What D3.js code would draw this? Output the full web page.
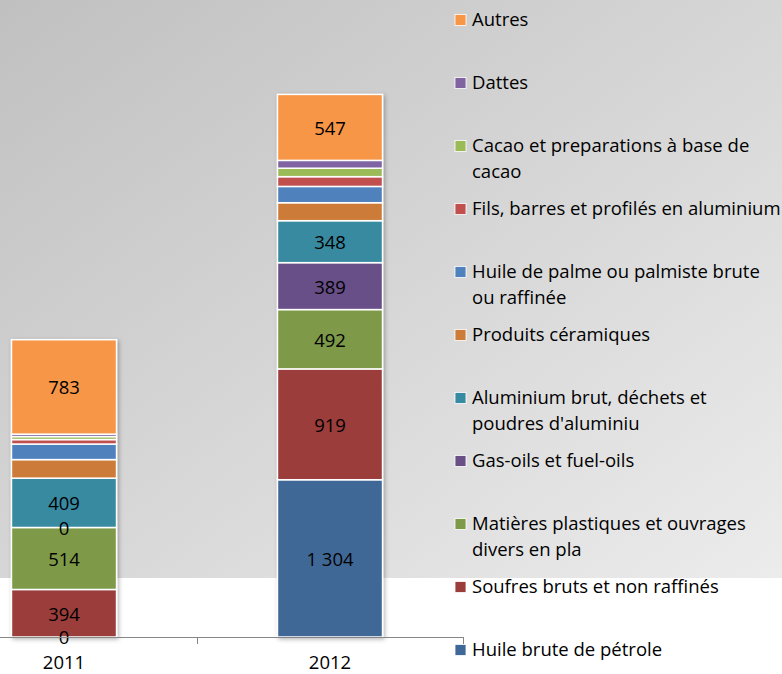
<!DOCTYPE html>
<html>
<head>
<meta charset="utf-8">
<script src="https://cdn.jsdelivr.net/npm/d3@7"></script>
<style>
  body { margin: 0; background: #fff; }
  svg text { font-family: "Open Sans", sans-serif; font-size: 18.5px; fill: #000; }
</style>
</head>
<body>
<div id="chart"></div>
<script>
// data
const years = ["2011", "2012"];
const products = [
  "Huile brute de pétrole",
  "Soufres bruts et non raffinés",
  "Matières plastiques et ouvrages divers en pla",
  "Gas-oils et fuel-oils",
  "Aluminium brut, déchets et poudres d'aluminiu",
  "Produits céramiques",
  "Huile de palme ou palmiste brute ou raffinée",
  "Fils, barres et profilés en aluminium",
  "Cacao et preparations à base de cacao",
  "Dattes",
  "Autres"
];
const values2011 = [0, 394, 514, 0, 409, 154, 129, 37, 25, 20, 783];
const values2012 = [1304, 919, 492, 389, 348, 149, 135, 81, 70, 65, 547];
const showLabel = [true, true, true, true, true, false, false, false, false, false, true];
const colors = ["#3f6797", "#9b3e3b", "#7e9a49", "#685087", "#378aa1", "#cc7b38",
                "#4f81bd", "#c0504d", "#9bbb59", "#8064a2", "#f79646"];
const legendLines = [
  ["Huile brute de pétrole"],
  ["Soufres bruts et non raffinés"],
  ["Matières plastiques et ouvrages", "divers en pla"],
  ["Gas-oils et fuel-oils"],
  ["Aluminium brut, déchets et", "poudres d'aluminiu"],
  ["Produits céramiques"],
  ["Huile de palme ou palmiste brute", "ou raffinée"],
  ["Fils, barres et profilés en aluminium"],
  ["Cacao et preparations à base de", "cacao"],
  ["Dattes"],
  ["Autres"]
];

const width = 782, height = 674;
const baseY = 637;

const svg = d3.select("#chart").append("svg")
    .attr("width", width)
    .attr("height", height);

const defs = svg.append("defs");
const grad = defs.append("linearGradient")
    .attr("id", "bg")
    .attr("x1", 0).attr("y1", 0).attr("x2", 1).attr("y2", 1);
grad.append("stop").attr("offset", "0%").attr("stop-color", "#c0c0c0");
grad.append("stop").attr("offset", "100%").attr("stop-color", "#ececec");

const shadow = defs.append("filter").attr("id", "shadow")
    .attr("x", "-20%").attr("y", "-5%").attr("width", "140%").attr("height", "110%");
shadow.append("feDropShadow")
    .attr("dx", 1.5).attr("dy", 1.5).attr("stdDeviation", 2)
    .attr("flood-color", "#000").attr("flood-opacity", 0.3);

// plot background
svg.append("rect")
    .attr("x", 0).attr("y", 0)
    .attr("width", width).attr("height", 578)
    .attr("fill", "url(#bg)");

// scales
const x = d3.scaleBand()
    .domain(years)
    .range([-69, 463])
    .paddingInner(0.605)
    .paddingOuter(0.3025);

const y = d3.scaleLinear()
    .domain([0, 5000])
    .range([baseY, 34]);

const rows = years.map((yr, i) => {
  const vals = i === 0 ? values2011 : values2012;
  const row = { year: yr };
  products.forEach((p, j) => row[p] = vals[j]);
  return row;
});

const stacked = d3.stack().keys(products)(rows);

const fmt = d3.formatLocale({ decimal: ",", thousands: "\u00a0", grouping: [3], currency: ["", ""] }).format(",d");

// bars
const barG = svg.append("g").attr("filter", "url(#shadow)");
stacked.forEach((layer, j) => {
  barG.append("g")
    .selectAll("rect")
    .data(layer.filter(d => d[1] - d[0] > 0))
    .join("rect")
      .attr("x", d => x(d.data.year))
      .attr("y", d => y(d[1]))
      .attr("width", x.bandwidth())
      .attr("height", d => y(d[0]) - y(d[1]))
      .attr("fill", colors[j])
      .attr("stroke", "#fff")
      .attr("stroke-width", 1.5);
});

// data labels
stacked.forEach((layer, j) => {
  if (!showLabel[j]) return;
  svg.append("g")
    .selectAll("text")
    .data(layer)
    .join("text")
      .attr("x", d => x(d.data.year) + x.bandwidth() / 2)
      .attr("y", d => (y(d[0]) + y(d[1])) / 2 + 1)
      .attr("dy", "0.35em")
      .attr("text-anchor", "middle")
      .text(d => fmt(d[1] - d[0]));
});

// category axis (ticks between categories, Excel style)
const axis = svg.append("g");
axis.append("line")
    .attr("x1", x.range()[0]).attr("x2", x.range()[1])
    .attr("y1", baseY + 0.5).attr("y2", baseY + 0.5)
    .attr("stroke", "#868686");
axis.selectAll("line.tick")
    .data(years)
    .join("line")
      .attr("class", "tick")
      .attr("x1", d => Math.round(x(d) + x.bandwidth() / 2 + x.step() / 2) + 0.5)
      .attr("x2", d => Math.round(x(d) + x.bandwidth() / 2 + x.step() / 2) + 0.5)
      .attr("y1", baseY)
      .attr("y2", baseY + 7)
      .attr("stroke", "#868686");
axis.selectAll("text")
    .data(years)
    .join("text")
      .attr("x", d => x(d) + x.bandwidth() / 2)
      .attr("y", 663)
      .attr("dy", "0.35em")
      .attr("text-anchor", "middle")
      .text(d => d);

// legend (top to bottom = reverse stack order)
const legend = svg.append("g");
const order = d3.range(products.length).reverse();
const item = legend.selectAll("g")
    .data(order)
    .join("g")
      .attr("transform", (d, i) => `translate(455, ${20 + i * 63})`);
item.append("rect")
    .attr("x", 0).attr("y", -5.5)
    .attr("width", 11).attr("height", 11)
    .attr("fill", d => colors[d])
    .attr("stroke", "#fff")
    .attr("stroke-width", 0.8);
item.each(function(d) {
  const t = d3.select(this).append("text")
      .attr("x", 17)
      .attr("y", 0);
  legendLines[d].forEach((line, k) => {
    t.append("tspan")
      .attr("x", 17)
      .attr("y", k * 26)
      .attr("dy", "0.35em")
      .text(line);
  });
});
</script>
</body>
</html>
